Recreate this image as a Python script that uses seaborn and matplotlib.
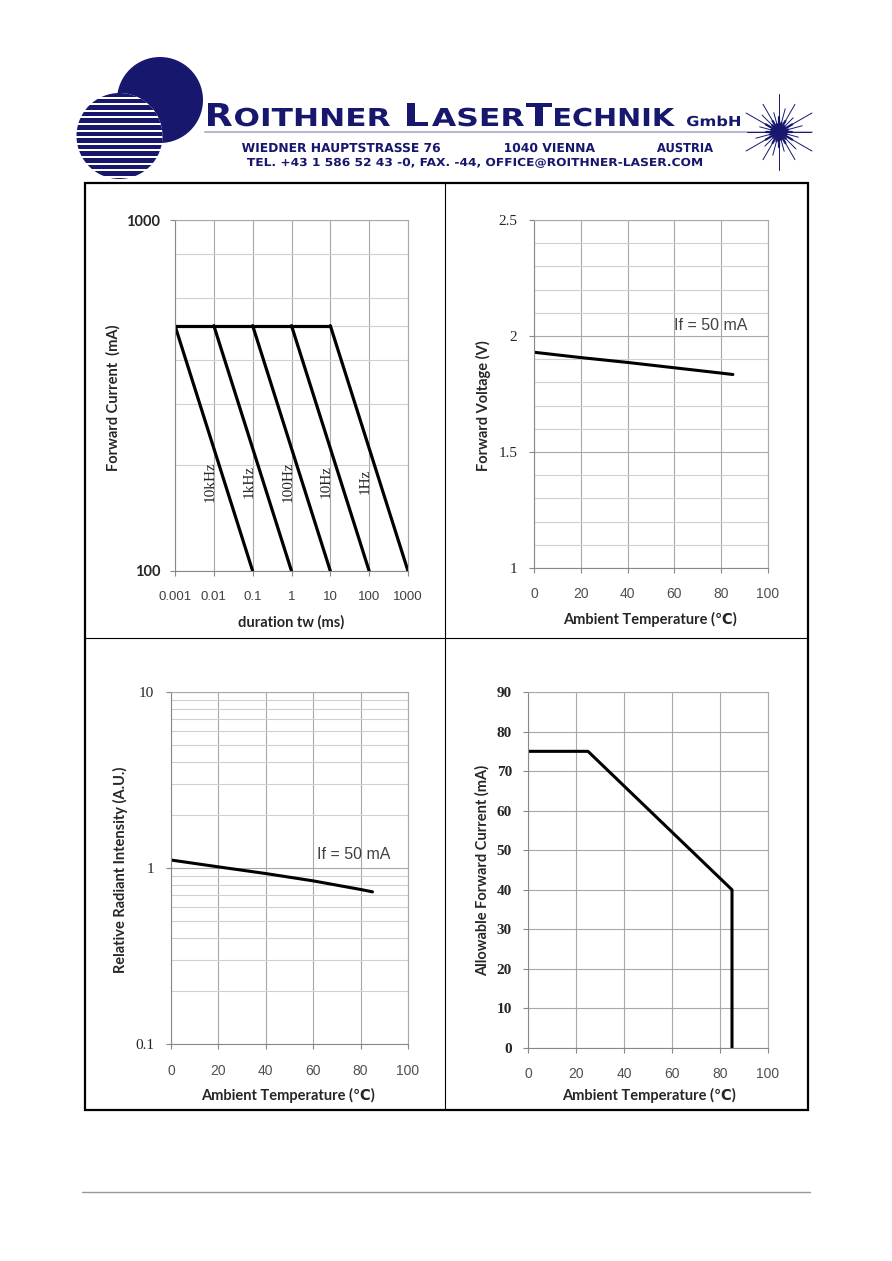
import numpy as np
import pandas as pd
import matplotlib
matplotlib.use("Agg")
import matplotlib.pyplot as plt
import seaborn as sns
from matplotlib.patches import Circle, PathPatch, Rectangle
from matplotlib.textpath import TextPath
from matplotlib.font_manager import FontProperties
from matplotlib.transforms import Affine2D
from matplotlib.ticker import FixedLocator, MultipleLocator, LogLocator, NullFormatter

# ---------------- data ----------------
pulse_labels = ["10kHz", "1kHz", "100Hz", "10Hz", "1Hz"]
pulse_start_ms = [0.001, 0.01, 0.1, 1, 10]      # derating starts at peak current
pulse_end_ms = [0.1, 1, 10, 100, 1000]          # reaches 100 mA
pulse_peak_ma = 500
pulse_floor_ma = 100
dur_ticks = [0.001, 0.01, 0.1, 1, 10, 100, 1000]
dur_ticklabels = ["0.001", "0.01", "0.1", "1", "10", "100", "1000"]

temp_c = [0, 20, 40, 60, 80, 85]
vf_v = [1.93, 1.907, 1.886, 1.863, 1.840, 1.834]
rel_int = [1.11, 1.015, 0.93, 0.845, 0.755, 0.732]

derate_temp = [0, 25, 85, 85]
derate_ma = [75, 75, 40, 0]

temp_ticks = [0, 20, 40, 60, 80, 100]

# ---------------- style ----------------
sns.set_style("white")
plt.rcParams["font.family"] = ["Lato", "DejaVu Sans"]

NAVY = "#17176e"
GRID = "#a8a8a8"
GRID_MINOR = "#d0d0d0"
LBL = dict(family=["Lato", "DejaVu Sans"], weight="bold", fontsize=10.5)
XT = dict(family="Liberation Sans", fontsize=10, color="#505050")

W, H = 892, 1261
fig = plt.figure(figsize=(W / 100, H / 100), dpi=100)


def px_axes(x0, y0, x1, y1):
    return fig.add_axes([x0 / W, 1 - y1 / H, (x1 - x0) / W, (y1 - y0) / H])


def style_axes(ax, xpad, ypad):
    for s in ax.spines.values():
        s.set_color(GRID)
        s.set_linewidth(0.8)
    ax.spines["left"].set_color("#888888")
    ax.spines["bottom"].set_color("#888888")
    ax.tick_params(which="major", direction="out", length=3.5, width=0.8,
                   color="#888888", bottom=True, left=True)
    ax.tick_params(which="minor", length=0)
    ax.tick_params(axis="x", pad=xpad)
    ax.tick_params(axis="y", pad=ypad)
    ax.grid(which="major", color=GRID, lw=0.8)
    ax.grid(which="minor", axis="y", color=GRID_MINOR, lw=0.8)
    ax.set_axisbelow(True)
    ax.set_xlabel("")
    ax.set_ylabel("")


# ---------------- panel 1: pulse derating ----------------
rows = []
for lbl, s, e in zip(pulse_labels, pulse_start_ms, pulse_end_ms):
    rows.append((s, pulse_peak_ma, lbl))
    rows.append((e, pulse_floor_ma, lbl))
rows.append((pulse_start_ms[0], pulse_peak_ma, "plateau"))
rows.append((pulse_start_ms[-1], pulse_peak_ma, "plateau"))
df1 = pd.DataFrame(rows, columns=["tw", "If", "curve"])

ax1 = px_axes(175, 220, 408, 571)
ax1.set_xscale("log")
ax1.set_yscale("log")
sns.lineplot(data=df1, x="tw", y="If", units="curve", estimator=None, sort=False,
             color="black", lw=2.3, ax=ax1, legend=False)
ax1.set_xlim(dur_ticks[0], dur_ticks[-1])
ax1.set_ylim(100, 1000)
ax1.set_xticks(dur_ticks, dur_ticklabels, family="Liberation Sans", fontsize=9.5, color="#404040")
ax1.xaxis.set_minor_locator(FixedLocator([]))
ax1.set_yticks([100, 1000], ["100", "1000"], family=["Lato", "DejaVu Sans"], weight="bold", fontsize=10.5)
ax1.yaxis.set_minor_locator(FixedLocator([200, 300, 400, 500, 600, 800]))
ax1.yaxis.set_minor_formatter(NullFormatter())
style_axes(ax1, 11, 7)
for lbl, s in zip(pulse_labels, pulse_start_ms):
    ax1.text(s * 8, 180, lbl, rotation=90, ha="center", va="center",
             family="Liberation Serif", fontsize=11)
ax1.text(-0.266, 0.493, "Forward Current  (mA)", rotation=90, ha="center", va="center",
         transform=ax1.transAxes, **LBL)
ax1.text(0.498, -0.145, "duration tw (ms)", ha="center", va="center",
         transform=ax1.transAxes, **LBL)

# ---------------- panel 2: forward voltage vs temperature ----------------
ax2 = px_axes(534, 220, 768, 568)
sns.lineplot(x=temp_c, y=vf_v, color="black", lw=2.2, ax=ax2)
ax2.set_xlim(0, 100)
ax2.set_ylim(1, 2.5)
ax2.set_xticks(temp_ticks, [str(t) for t in temp_ticks], **XT)
ax2.set_yticks([1, 1.5, 2, 2.5], ["1", "1.5", "2", "2.5"], family="Liberation Serif", fontsize=11)
ax2.yaxis.set_minor_locator(MultipleLocator(0.1))
style_axes(ax2, 10, 8.5)
ax2.text(60, 2.047, "If = 50 mA", ha="left", va="center", family="Liberation Sans",
         fontsize=11.5, color="#404040")
ax2.text(-0.218, 0.468, "Forward Voltage (V)", rotation=90, ha="center", va="center",
         transform=ax2.transAxes, **LBL)
ax2.text(0.496, -0.149, "Ambient Temperature (℃)", ha="center", va="center",
         transform=ax2.transAxes, **LBL)

# ---------------- panel 3: relative intensity vs temperature ----------------
ax3 = px_axes(171, 692, 408, 1044)
ax3.set_yscale("log")
sns.lineplot(x=temp_c, y=rel_int, color="black", lw=2.2, ax=ax3)
ax3.set_xlim(0, 100)
ax3.set_ylim(0.1, 10)
ax3.set_xticks(temp_ticks, [str(t) for t in temp_ticks], **XT)
ax3.set_yticks([0.1, 1, 10], ["0.1", "1", "10"], family="Liberation Serif", fontsize=11)
ax3.yaxis.set_minor_locator(LogLocator(base=10, subs=np.arange(2, 10)))
ax3.yaxis.set_minor_formatter(NullFormatter())
style_axes(ax3, 11, 8.5)
ax3.text(61.5, 1.19, "If = 50 mA", ha="left", va="center", family="Liberation Sans",
         fontsize=11.5, color="#404040")
ax3.text(-0.215, 0.494, "Relative Radiant Intensity (A.U.)", rotation=90, ha="center",
         va="center", transform=ax3.transAxes, **LBL)
ax3.text(0.494, -0.145, "Ambient Temperature (℃)", ha="center", va="center",
         transform=ax3.transAxes, **LBL)

# ---------------- panel 4: derating curve ----------------
ax4 = px_axes(528, 692, 768, 1048)
sns.lineplot(x=derate_temp, y=derate_ma, sort=False, estimator=None, color="black",
             lw=2.2, ax=ax4)
ax4.set_xlim(0, 100)
ax4.set_ylim(0, 90)
ax4.set_xticks(temp_ticks, [str(t) for t in temp_ticks], **XT)
yt4 = list(range(0, 91, 10))
ax4.set_yticks(yt4, [str(v) for v in yt4], family="Liberation Serif", weight="bold", fontsize=11)
style_axes(ax4, 10.5, 8)
ax4.text(-0.192, 0.5, "Allowable Forward Current (mA)", rotation=90, ha="center",
         va="center", transform=ax4.transAxes, **LBL)
ax4.text(0.504, -0.132, "Ambient Temperature (℃)", ha="center", va="center",
         transform=ax4.transAxes, **LBL)

# ---------------- page decoration: header, table frame, footer ----------------
ov = fig.add_axes([0, 0, 1, 1], zorder=-1)
ov.set_xlim(0, W)
ov.set_ylim(H, 0)
ov.axis("off")

# table frame
ov.add_patch(Rectangle((85, 183), 723, 927, fill=False, ec="black", lw=1.6))
ov.plot([445, 445], [183, 1110], color="black", lw=0.8)
ov.plot([85, 808], [638, 638], color="black", lw=0.8)
# footer rule
ov.plot([82, 810], [1192, 1192], color="#999999", lw=1.0)

# logo circles
ov.add_patch(Circle((160, 100), 43, color=NAVY, lw=0))
disc = Circle((119.5, 136), 43, color="white", lw=0)
ov.add_patch(disc)
for yy in np.arange(92, 181, 6.6):
    r = Rectangle((70, yy), 100, 4.6, color=NAVY, lw=0)
    ov.add_patch(r)
    r.set_clip_path(disc)

# stretched logo lettering
bold = FontProperties(family="DejaVu Sans", weight="bold")


def stretch_text(s, x0, x1, base, cap, prop):
    tp = TextPath((0, 0), s, size=10, prop=prop)
    bb = tp.get_extents()
    sx = (x1 - x0) / bb.width
    sy = cap / 7.29
    tr = Affine2D().translate(-bb.x0, 0).scale(sx, -sy).translate(x0, base)
    ov.add_patch(PathPatch(tr.transform_path(tp), color=NAVY, lw=0))


stretch_text("R", 208, 232, 126, 23, bold)
stretch_text("OITHNER", 235, 390, 126, 18, bold)
stretch_text("L", 407, 428, 126, 23, bold)
stretch_text("ASER", 432, 524, 126, 18, bold)
stretch_text("T", 526, 552, 126, 23, bold)
stretch_text("ECHNIK", 555, 675, 126, 18, bold)
stretch_text("GmbH", 687, 740, 126, 10, bold)
stretch_text("WIEDNER HAUPTSTRASSE 76", 242, 440, 152, 9, bold)
stretch_text("1040 VIENNA", 505, 595, 152, 9, bold)
stretch_text("AUSTRIA", 657, 713, 152, 9, bold)
stretch_text("TEL. +43 1 586 52 43 -0, FAX. -44, OFFICE@ROITHNER-LASER.COM", 247, 702, 166, 8, bold)
ov.plot([205, 812], [131.5, 131.5], color="#b8b8d0", lw=1.5)

# starburst
cx, cy = 779, 132
ray_len = [38, 24, 32, 20]
for k, a in enumerate(np.linspace(0, 2 * np.pi, 24, endpoint=False) + np.pi / 2):
    L = ray_len[k % 4]
    ov.plot([cx, cx + L * np.cos(a)], [cy, cy + L * np.sin(a)], color=NAVY, lw=0.7)
    ov.plot([cx, cx + 0.4 * L * np.cos(a)], [cy, cy + 0.4 * L * np.sin(a)], color=NAVY, lw=1.6)
ov.add_patch(Circle((cx, cy), 5, color=NAVY, lw=0))

fig.savefig("out.png", dpi=100, facecolor="white")
